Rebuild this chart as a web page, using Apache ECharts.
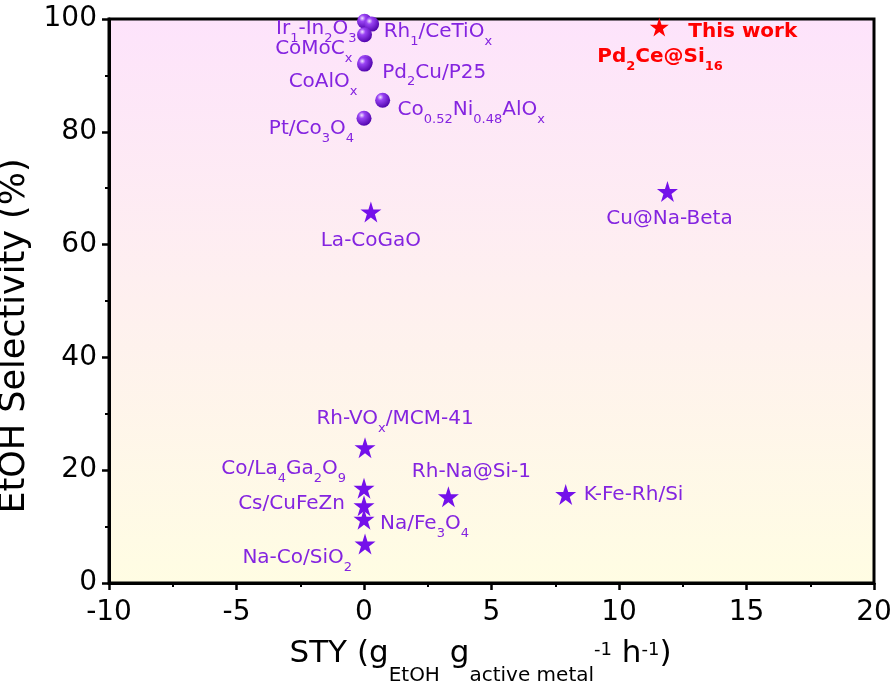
<!DOCTYPE html>
<html>
<head>
<meta charset="utf-8">
<script src="https://cdn.jsdelivr.net/npm/echarts@6/dist/echarts.min.js"></script>
<style>html,body{margin:0;padding:0;background:#fff}#c{width:893px;height:688px}</style>
</head>
<body>
<div id="c"></div>
<script>
// ---- data ----
const xTicks = [-10, -5, 0, 5, 10, 15, 20];
const yTicks = [0, 20, 40, 60, 80, 100];

const sphereNames = ['Ir{s|1}-In{s|2}O{s|3}', 'Rh{s|1}/CeTiO{s|x}', 'CoMoC{s|x}', 'Pd{s|2}Cu/P25', 'CoAlO{s|x}', 'Co{s|0.52}Ni{s|0.48}AlO{s|x}', 'Pt/Co{s|3}O{s|4}'];
const sphereX = [0.02, 0.3, 0.02, 0.05, 0.02, 0.73, 0.0];
const sphereY = [99.6, 99.1, 97.2, 92.3, 92.0, 85.6, 82.4];

const starNames = ['La-CoGaO', 'Cu@Na-Beta', 'Rh-VO{s|x}/MCM-41', 'Co/La{s|4}Ga{s|2}O{s|9}', 'Cs/CuFeZn', 'Na/Fe{s|3}O{s|4}', 'Na-Co/SiO{s|2}', 'Rh-Na@Si-1', 'K-Fe-Rh/Si'];
const starX = [0.27, 11.9, 0.04, 0.0, 0.0, 0.0, 0.04, 3.31, 7.91];
const starY = [65.8, 69.4, 24.0, 16.8, 13.7, 11.3, 6.9, 15.3, 15.7];

const thisWorkX = [11.58];
const thisWorkY = [98.6];
const thisWorkTitle = 'This work';
const thisWorkName = 'Pd{s|2}Ce@Si{s|16}';

// ---- layout (label offsets in px from marker centre) ----
const sphereLabelLayout = [[-8, 8, 'right'], [12, 8, 'left'], [-12, 14, 'right'], [17, 10, 'left'], [-7, 18, 'right'], [15, 10, 'left'], [-10, 11, 'right']];
const starLabelLayout = [[0, 29, 'center'], [2, 27, 'center'], [30, -29, 'center'], [-18, -19, 'right'], [-19, -2, 'right'], [16, 5, 'left'], [-13, 14, 'right'], [23, -25, 'center'], [18, 0, 'left']];

const FONT = 'DejaVu Sans';
const TXT_PURPLE = '#8424e0';
const STAR_PURPLE = '#7410ea';
const RED = '#ff0000';
const STAR = 'path://M50,0L61.2,34.5L97.6,34.5L68.2,55.9L79.4,90.5L50,69.1L20.6,90.5L31.8,55.9L2.4,34.5L38.8,34.5Z';
const SPHERE_SIZE = 15, STAR_SIZE = 21, RED_STAR_SIZE = 19;

function richSub(color, bold) {
  return { s: { fontSize: 13, padding: [19, 0, 0, 0], color: color, fontFamily: FONT, fontWeight: bold ? 'bold' : 'normal' } };
}
function makeItems(xs, ys, names, layout, size, color, bold) {
  return xs.map((x, i) => {
    const l = layout[i];
    return {
      value: [x, ys[i]],
      label: {
        show: true, formatter: names[i],
        position: [size / 2 + l[0], size / 2 + l[1]], align: l[2], verticalAlign: 'middle',
        fontSize: 20, color: color, fontFamily: FONT, fontWeight: bold ? 'bold' : 'normal',
        opacity: 1,
        rich: richSub(color, bold)
      }
    };
  });
}

const chart = echarts.init(document.getElementById('c'), null, { renderer: 'canvas' });
const axisCommon = {
  axisLine: { show: true, onZero: false, lineStyle: { color: '#000', width: 3 } },
  axisTick: { show: true, inside: false, length: 7, lineStyle: { color: '#000', width: 2.5 } },
  minorTick: { show: true, splitNumber: 2, length: 4, lineStyle: { color: '#000', width: 2 } },
  splitLine: { show: false },
  minorSplitLine: { show: false },
  axisLabel: { fontSize: 28, color: '#000', fontFamily: FONT, margin: 12 }
};

chart.setOption({
  animation: false,
  backgroundColor: '#fff',
  grid: {
    left: 109, right: 19, top: 19, bottom: 105,
    show: true, borderColor: '#000', borderWidth: 3,
    outerBoundsMode: 'none',
    backgroundColor: { type: 'linear', x: 0, y: 0, x2: 0, y2: 1, colorStops: [{ offset: 0, color: '#fde3fb' }, { offset: 1, color: '#fffde3' }] }
  },
  xAxis: Object.assign({}, axisCommon, {
    type: 'value', min: xTicks[0], max: xTicks[xTicks.length - 1], interval: xTicks[1] - xTicks[0],
    axisLabel: { fontSize: 28, color: '#000', fontFamily: FONT, margin: 16 },
    name: '{m|STY (g}{sub|EtOH}{m| g}{sub|active metal}{sup|-1}{m| h}{sup|-1}{m|)}',
    nameLocation: 'middle', nameGap: 39,
    nameTextStyle: {
      padding: [0, 22, 0, 0],
      rich: {
        m: { fontSize: 31, color: '#000', fontFamily: FONT },
        sub: { fontSize: 20, color: '#000', fontFamily: FONT, padding: [44, 0, 0, 0] },
        sup: { fontSize: 18, color: '#000', fontFamily: FONT, padding: [0, 0, 8, 0] }
      }
    }
  }),
  yAxis: Object.assign({}, axisCommon, {
    type: 'value', min: yTicks[0], max: yTicks[yTicks.length - 1], interval: yTicks[1] - yTicks[0],
    name: 'EtOH Selectivity (%)', nameLocation: 'middle', nameGap: 62,
    nameTextStyle: { fontSize: 35, color: '#000', fontFamily: FONT, padding: [0, 70, 0, 0] }
  }),
  series: [
    {
      type: 'scatter', name: 'spheres', symbol: 'circle', symbolSize: SPHERE_SIZE,
      itemStyle: { opacity: 1, color: { type: 'radial', x: 0.35, y: 0.3, r: 0.75, colorStops: [{ offset: 0, color: '#f2e4ff' }, { offset: 0.28, color: '#9a44f4' }, { offset: 1, color: '#4c00a8' }] } },
      data: makeItems(sphereX, sphereY, sphereNames, sphereLabelLayout, SPHERE_SIZE, TXT_PURPLE, false)
    },
    {
      type: 'scatter', name: 'stars', symbol: STAR, symbolSize: STAR_SIZE,
      itemStyle: { opacity: 1, color: STAR_PURPLE },
      data: makeItems(starX, starY, starNames, starLabelLayout, STAR_SIZE, TXT_PURPLE, false)
    },
    {
      type: 'scatter', name: 'this work', symbol: STAR, symbolSize: RED_STAR_SIZE,
      itemStyle: { opacity: 1, color: RED },
      data: makeItems(thisWorkX, thisWorkY, [thisWorkTitle], [[29, 5, 'left']], RED_STAR_SIZE, RED, true)
    },
    {
      type: 'scatter', name: 'this work name', symbol: 'circle', symbolSize: RED_STAR_SIZE,
      itemStyle: { opacity: 1, color: 'rgba(0,0,0,0)' }, silent: true,
      data: makeItems(thisWorkX, thisWorkY, [thisWorkName], [[-62, 30, 'left']], RED_STAR_SIZE, RED, true)
    }
  ]
});
</script>
</body>
</html>
